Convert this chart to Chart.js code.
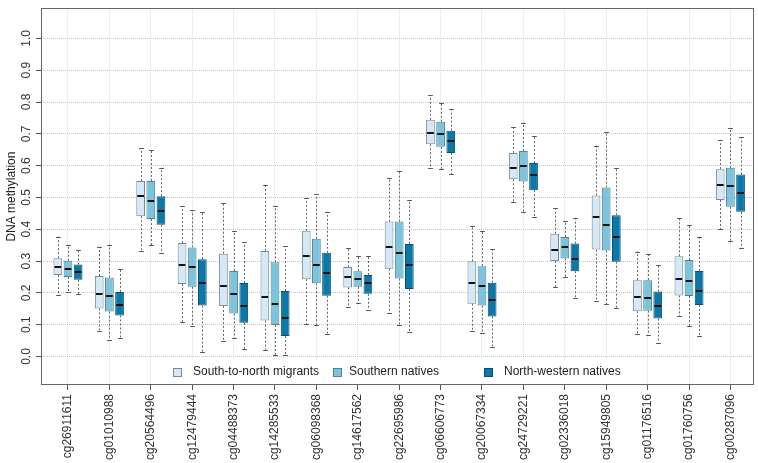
<!DOCTYPE html>
<html>
<head>
<meta charset="utf-8">
<script src="https://cdn.jsdelivr.net/npm/chart.js@4/dist/chart.umd.min.js"></script>
<style>
  html, body { margin: 0; padding: 0; background: #fff; }
  #box { width: 758px; height: 463px; }
</style>
</head>
<body>
<div id="box"><canvas id="canvas1" width="758" height="463"></canvas></div>
<script>
// CpG sites on the x axis
var categories = ['cg26911611','cg01010988','cg20564496','cg12479444','cg04488373','cg14285533',
  'cg06098368','cg14617562','cg22695986','cg06606773','cg20067334','cg24729221','cg02336018',
  'cg15949805','cg01176516','cg01760756','cg00287096'];

var seriesNames = ['South-to-north migrants', 'Southern natives', 'North-western natives'];

// each row: [lower whisker, Q1, median, Q3, upper whisker]
var migrants = [
  [0.194,0.256,0.281,0.309,0.377],[0.080,0.151,0.197,0.253,0.345],[0.333,0.441,0.504,0.552,0.655],
  [0.109,0.228,0.289,0.357,0.473],[0.049,0.159,0.221,0.323,0.482],[0.019,0.113,0.188,0.332,0.540],
  [0.101,0.243,0.315,0.395,0.497],[0.156,0.217,0.251,0.281,0.342],[0.137,0.276,0.343,0.424,0.560],
  [0.593,0.667,0.704,0.744,0.822],[0.080,0.166,0.230,0.299,0.410],[0.486,0.557,0.592,0.640,0.722],
  [0.217,0.300,0.336,0.386,0.466],[0.173,0.336,0.437,0.506,0.663],[0.070,0.142,0.186,0.240,0.330],
  [0.126,0.192,0.244,0.315,0.436],[0.400,0.492,0.540,0.589,0.681]
];
var southern = [
  [0.202,0.250,0.274,0.301,0.349],[0.053,0.141,0.191,0.248,0.352],[0.349,0.432,0.490,0.552,0.650],
  [0.096,0.219,0.281,0.343,0.460],[0.058,0.135,0.196,0.269,0.394],[0.004,0.099,0.166,0.296,0.474],
  [0.099,0.230,0.289,0.370,0.510],[0.168,0.219,0.243,0.268,0.316],[0.100,0.245,0.326,0.424,0.582],
  [0.590,0.659,0.701,0.738,0.796],[0.075,0.160,0.223,0.284,0.395],[0.454,0.550,0.598,0.646,0.735],
  [0.251,0.308,0.343,0.376,0.426],[0.164,0.333,0.412,0.531,0.707],[0.068,0.144,0.183,0.240,0.321],
  [0.096,0.190,0.238,0.303,0.414],[0.362,0.471,0.536,0.593,0.717]
];
var northWestern = [
  [0.196,0.241,0.266,0.289,0.336],[0.058,0.129,0.161,0.203,0.276],[0.325,0.414,0.456,0.504,0.593],
  [0.015,0.160,0.230,0.306,0.454],[0.023,0.106,0.158,0.231,0.359],[0.004,0.064,0.122,0.206,0.347],
  [0.070,0.191,0.264,0.326,0.455],[0.147,0.197,0.231,0.256,0.315],[0.077,0.212,0.289,0.354,0.492],
  [0.573,0.640,0.676,0.710,0.778],[0.029,0.126,0.179,0.232,0.337],[0.440,0.523,0.570,0.608,0.694],
  [0.183,0.268,0.307,0.355,0.436],[0.152,0.298,0.375,0.444,0.591],[0.043,0.119,0.158,0.204,0.289],
  [0.065,0.162,0.205,0.269,0.376],[0.340,0.455,0.513,0.572,0.689]
];

var yTicks = [0.0,0.1,0.2,0.3,0.4,0.5,0.6,0.7,0.8,0.9,1.0];

var fillColors = ['#d4e8f5', '#7cc3dc', '#0a78a8'];
var borderColors = ['#7a8894', '#4f8299', '#0c4e6e'];
var FONT = "'Liberation Sans', Arial, sans-serif";

function makeDataset(name, stats, k) {
  return {
    label: name,
    stats: stats,
    data: stats.map(function(s, i){ return {x: i, y: [s[1], s[3]]}; }),
    backgroundColor: fillColors[k],
    borderColor: borderColors[k],
    borderWidth: 1,
    borderSkipped: false,
    categoryPercentage: 0.735,
    barPercentage: 0.86
  };
}

var frame = {
  id: 'frame',
  beforeDatasetsDraw: function(chart) {
    var a = chart.chartArea, ctx = chart.ctx;
    ctx.save();
    ctx.strokeStyle = '#666';
    ctx.lineWidth = 1;
    ctx.strokeRect(Math.round(a.left) + 0.5, Math.round(a.top) + 0.5,
      Math.round(a.right - a.left) - 1, Math.round(a.bottom - a.top) - 1);
    ctx.restore();
  }
};

var whiskers = {
  id: 'whiskers',
  beforeDatasetsDraw: function(chart) {
    var ctx = chart.ctx, ys = chart.scales.y;
    ctx.save();
    chart.data.datasets.forEach(function(ds, d) {
      var meta = chart.getDatasetMeta(d);
      meta.data.forEach(function(bar, i) {
        var s = ds.stats[i];
        var x = Math.round(bar.x) + 0.5;
        var half = bar.width * 0.27;
        var yLo = ys.getPixelForValue(s[0]), yQ1 = ys.getPixelForValue(s[1]);
        var yQ3 = ys.getPixelForValue(s[3]), yHi = ys.getPixelForValue(s[4]);
        ctx.strokeStyle = '#666';
        ctx.lineWidth = 1;
        ctx.setLineDash([2, 2]);
        ctx.beginPath();
        ctx.moveTo(x, yQ3); ctx.lineTo(x, yHi);
        ctx.moveTo(x, yQ1); ctx.lineTo(x, yLo);
        ctx.stroke();
        ctx.setLineDash([]);
        ctx.strokeStyle = '#555';
        ctx.beginPath();
        ctx.moveTo(x - half, Math.round(yHi) + 0.5); ctx.lineTo(x + half, Math.round(yHi) + 0.5);
        ctx.moveTo(x - half, Math.round(yLo) + 0.5); ctx.lineTo(x + half, Math.round(yLo) + 0.5);
        ctx.stroke();
      });
    });
    ctx.restore();
  },
  afterDatasetsDraw: function(chart) {
    var ctx = chart.ctx, ys = chart.scales.y;
    ctx.save();
    ctx.strokeStyle = '#111';
    ctx.lineWidth = 2;
    chart.data.datasets.forEach(function(ds, d) {
      var meta = chart.getDatasetMeta(d);
      meta.data.forEach(function(bar, i) {
        var y = Math.round(ys.getPixelForValue(ds.stats[i][2]));
        ctx.beginPath();
        ctx.moveTo(bar.x - bar.width / 2 + 1, y);
        ctx.lineTo(bar.x + bar.width / 2 - 1, y);
        ctx.stroke();
      });
    });
    ctx.restore();
  }
};

var boxLegend = {
  id: 'boxLegend',
  afterDraw: function(chart) {
    var ctx = chart.ctx;
    var sqX = [173, 333, 484], txtX = [193, 349, 504], yc = 372;
    ctx.save();
    ctx.fillStyle = '#fff';
    ctx.fillRect(165, 359, 465, 25);
    ctx.font = '12px ' + FONT;
    ctx.textBaseline = 'middle';
    seriesNames.forEach(function(name, k) {
      ctx.fillStyle = fillColors[k];
      ctx.fillRect(sqX[k] + 0.5, yc - 4 + 0.5, 8, 8);
      ctx.strokeStyle = borderColors[k];
      ctx.lineWidth = 1;
      ctx.strokeRect(sqX[k] + 0.5, yc - 4 + 0.5, 8, 8);
      ctx.fillStyle = '#222';
      ctx.fillText(name, txtX[k], yc);
    });
    ctx.restore();
  }
};

new Chart(document.getElementById('canvas1').getContext('2d'), {
  type: 'bar',
  data: {
    datasets: [
      makeDataset(seriesNames[0], migrants, 0),
      makeDataset(seriesNames[1], southern, 1),
      makeDataset(seriesNames[2], northWestern, 2)
    ]
  },
  options: {
    responsive: false,
    animation: false,
    devicePixelRatio: 1,
    layout: { padding: { top: 2, right: 4, left: 0, bottom: 0 } },
    plugins: { legend: { display: false }, tooltip: { enabled: false } },
    scales: {
      x: {
        type: 'linear',
        min: -0.652,
        max: 16.57,
        offset: false,
        afterBuildTicks: function(scale) {
          scale.ticks = categories.map(function(c, i){ return {value: i}; });
        },
        afterFit: function(scale) { scale.height = 78; },
        ticks: {
          autoSkip: false,
          minRotation: 90,
          maxRotation: 90,
          padding: 4,
          color: '#333',
          font: { family: FONT, size: 12 },
          callback: function(v) { return categories[v]; }
        },
        grid: { offset: false, color: '#dcdcdc', tickColor: '#555', tickLength: 5, lineWidth: 1 },
        border: { display: false, dash: [1, 1] }
      },
      y: {
        type: 'linear',
        min: -0.0897,
        max: 1.095,
        afterBuildTicks: function(scale) {
          var t = [];
          for (var k = 0; k <= 20; k++) t.push({value: k * 0.05});
          scale.ticks = t;
        },
        afterFit: function(scale) { scale.width = 41; },
        ticks: {
          minRotation: 90,
          maxRotation: 90,
          crossAlign: 'center',
          padding: 1,
          color: '#333',
          font: { family: FONT, size: 12 },
          callback: function(v, i) { return i % 2 === 0 ? yTicks[i / 2].toFixed(1) : ''; }
        },
        grid: {
          color: '#c4c4c4',
          tickLength: 5,
          tickColor: function(ctx) { return ctx.index % 2 === 0 ? '#555' : 'rgba(0,0,0,0)'; }
        },
        border: { display: false, dash: [1, 1] },
        title: {
          display: true,
          text: 'DNA methylation',
          color: '#222',
          font: { family: FONT, size: 12 },
          padding: { top: 4, bottom: 0 }
        }
      }
    }
  },
  plugins: [frame, whiskers, boxLegend]
});
</script>
</body>
</html>
